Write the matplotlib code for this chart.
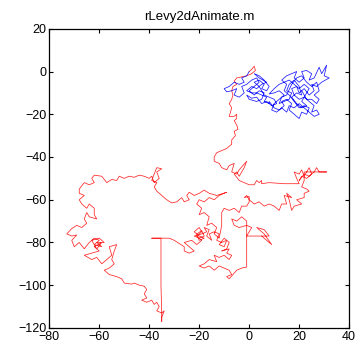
'''
Levy flight trajectories (two walkers) traced from rLevy2dAnimate.m output.
'''

import matplotlib
matplotlib.use('Agg')
import matplotlib.pyplot as plt

#######################################################

# red walker, (x, y) points in order
red_xy = [
    (0, 0), (1, 1), (2, 2.5), (2.5, 0.5), (1, -1), (-1, -2), (-3, -2.5), (-5, -3),
    (-6, -4.5), (-5, -6), (-6.5, -7), (-7, -9), (-6.5, -11), (-7, -13), (-8, -15),
    (-7, -17), (-7.5, -19), (-8, -21), (-6, -21), (-5, -20), (-5, -22), (-6, -23),
    (-5, -25), (-4.5, -27), (-6, -28), (-5.5, -30), (-7, -32), (-7, -34), (-9, -36),
    (-11, -37), (-13, -38), (-14, -40), (-14, -42), (-12, -43), (-11, -45), (-9, -46),
    (-8, -44), (-6, -43), (-7, -47), (-5, -48), (-4, -46), (-1, -42), (-2, -45),
    (-3, -47), (-4, -49), (-5, -47), (-6, -48), (-4, -51), (-2, -52), (0, -53),
    (2, -53), (3, -51), (4, -52), (5, -51), (5, -52.5), (8, -52), (14, -52.5),
    (20, -52.5), (19, -50), (18, -47), (20, -48), (21, -46), (22, -49), (23, -47),
    (24, -45), (25, -48), (23, -50), (21, -49), (20, -51), (22, -48), (24, -49),
    (26, -47), (27, -45), (28, -47), (31, -47),
    (22, -47), (22, -51), (21, -54), (23, -55), (24, -56), (22, -57), (22, -59),
    (19, -60), (21, -62), (18, -63), (17, -65), (16, -60), (15, -57), (17, -59),
    (14, -58), (15, -62), (13, -62), (12, -65), (10, -63), (8, -62), (6, -63),
    (4, -61), (2, -62), (0, -60), (-1, -58), (-2, -59), (0, -58.5), (0, -61),
    (-1, -63), (-3, -63), (-4, -66), (-6, -64), (-8, -65), (-10, -64), (-11, -66),
    (-11, -72), (-12, -78), (-14, -76), (-13, -73), (-15, -71), (-17, -72),
    (-16, -68), (-18, -66), (-20, -67), (-19, -64), (-21, -62), (-20, -60),
    (-18, -61), (-16, -59), (-14, -60), (-12, -58), (-9, -56.5), (-13, -58),
    (-16, -57), (-18, -55.5), (-20, -57), (-22, -58), (-24, -56.5), (-25, -58),
    (-24, -60), (-26, -61), (-27, -59), (-29, -61), (-31, -61.5), (-33, -60),
    (-35, -58), (-37, -56), (-38, -54), (-37, -52), (-39, -51), (-38, -48),
    (-37, -45), (-35, -45.5), (-37, -47), (-36, -50), (-38, -52), (-39, -49),
    (-40, -50), (-42, -49), (-44, -48.5), (-46, -49.5), (-48, -49), (-50, -50),
    (-52, -49), (-53, -51), (-55, -50.5), (-57, -52), (-59, -49), (-62, -48.5),
    (-63, -50), (-62, -52), (-64, -53), (-66, -52), (-68, -55), (-68, -57),
    (-66, -58), (-68, -60), (-67, -62), (-65, -64), (-64, -62), (-62, -64),
    (-62, -67), (-61, -69), (-64, -68), (-65, -66), (-66, -69), (-65, -71),
    (-67, -73), (-69, -72), (-71, -73.5), (-73, -76), (-71, -77), (-69, -76.5),
    (-71, -79), (-70, -82), (-68, -80), (-66, -83), (-64, -80), (-62, -78),
    (-60, -79), (-62, -81), (-59, -82), (-61, -80), (-58, -80), (-60, -78),
    (-63, -79), (-61, -83), (-59, -80), (-62, -82), (-60, -84),
    (-63, -85), (-66, -86), (-63, -88), (-61, -87), (-59, -90), (-57, -88),
    (-55, -86), (-56, -82), (-53, -81), (-54, -84), (-55, -88), (-54, -90),
    (-56, -92), (-58, -93), (-56, -95), (-53, -96), (-51, -97), (-50, -99),
    (-47, -99.5), (-46, -99), (-44, -100), (-42, -100.5), (-41, -102), (-42, -104),
    (-41, -106), (-43, -107), (-41, -108), (-39, -107), (-38, -109), (-37, -108),
    (-36, -110), (-37, -112), (-35, -113), (-34, -112), (-35, -115), (-35, -117),
    (-35, -113), (-35.3, -100), (-35.3, -78), (-39, -78), (-36, -78), (-32, -78),
    (-30, -79), (-28, -80.5), (-26, -82), (-26, -84), (-24, -85), (-22, -84),
    (-24, -82), (-26, -80), (-23, -79), (-21, -81), (-19, -79), (-21, -77),
    (-19, -75), (-20, -73), (-22, -75), (-20, -77), (-18, -78), (-20, -79),
    (-21, -76), (-19, -74.5), (-18, -77), (-20, -78), (-22, -77), (-19, -76),
    (-17, -75), (-18, -73), (-16, -74), (-17, -77), (-15, -79), (-16, -76),
    (-14, -75), (-12, -76), (-13, -79), (-11, -80), (-9, -79), (-10, -82),
    (-12, -81), (-10, -78), (-8, -80), (-9, -83), (-11, -84), (-8, -83),
    (-9, -85), (-7, -86), (-8, -88), (-10, -86), (-12, -87), (-14, -86),
    (-13, -89), (-16, -88), (-18, -90), (-20, -91), (-18, -92), (-16, -91),
    (-14, -93), (-12, -91), (-10, -92), (-8, -93), (-7, -95), (-9, -96),
    (-8, -97), (-5, -93), (-3, -92), (-1, -91.5), (-1, -85), (-1, -70),
    (-3, -68), (-5, -70), (-7, -69), (-6, -72), (-4, -73), (-1, -72), (1, -73),
    (-1, -77), (4, -77), (8, -77), (6, -74), (3, -73), (6, -76), (9, -81),
    (7, -79), (5, -77),
]

# blue walker, (x, y) points in order
blue_xy = [
    (0, 0), (-1, -2), (-3, -3), (-2, -5), (-4, -6), (-6, -5), (-8, -7), (-10, -8),
    (-9, -9.5), (-7, -9), (-5, -8), (-6, -11), (-4, -12), (-2, -10), (-3, -7),
    (-1, -6), (1, -4), (3, -3), (4, -5), (2, -7), (0, -9), (2, -11), (4, -9),
    (6, -10), (5, -13), (3, -14), (0, -13), (-1, -11), (1, -12.5), (3, -12),
    (5, -15), (7, -14), (9, -16), (11, -15), (10, -13), (8, -12), (6, -11),
    (4, -7), (2, -5), (4, -4), (6, -6), (5, -8), (7, -9), (8, -7), (6, -4),
    (4, -2), (2, -1), (4, -3), (7, -5), (5, -6), (3, -8), (1, -7), (-1, -9),
    (1, -10), (3, -10), (5, -11), (7, -12), (6, -14), (8, -15), (8, -14),
    (10, -17), (12, -18), (14, -16),
    (13, -14), (15, -13), (17, -15), (16, -18), (18, -20), (20, -22), (21, -19),
    (23, -20), (24, -17), (22, -16), (20, -17), (18, -14), (16, -11), (14, -9),
    (15, -6), (13, -4), (15, -2), (17, -1), (19, 0), (18, -3), (20, -5), (22, -3),
    (21, 0), (23, 0.5), (25, -1), (24, -4), (26, -3), (28, 2), (29, -1), (31, 3),
    (30, -2), (32, -3), (29, -5), (27, -7), (25, -6), (26, -9), (24, -11),
    (22, -8), (20, -10), (19, -7), (17, -8), (18, -11), (20, -13), (22, -12),
    (24, -14), (26, -16), (25, -19), (27, -18), (28, -20), (26, -21), (24, -19),
    (22, -17), (20, -15), (18, -17), (16, -16), (15, -19), (13, -17), (11, -19),
    (9, -18), (10, -15), (12, -13), (14, -11), (12, -9), (10, -10), (8, -10.5),
    (10, -8), (12, -6), (14, -5), (16, -4), (18, -6), (20, -8), (22, -6),
    (24, -8), (23, -10), (21, -14), (23, -16), (21, -17), (19, -15), (17, -12),
    (19, -10), (21, -11), (20, -7), (18, -4), (16, -6), (15, -9), (17, -10),
    (16, -13), (14, -14), (12, -15), (13, -12), (15, -11), (17, -6), (19, -3),
    (21, -2), (23, -5), (25, -7), (27, -5), (28, -9), (26, -11), (28, -13),
    (27, -15), (25, -13), (23, -13), (21, -9),
]

x_ticks = [-80, -60, -40, -20, 0, 20, 40]
y_ticks = [-120, -100, -80, -60, -40, -20, 0, 20]

#######################################################

plt.rcParams['font.family'] = ['Liberation Sans', 'DejaVu Sans']

fig = plt.figure(figsize=(3.57, 3.47), dpi=100)
ax = fig.add_axes([0.138, 0.055, 0.840, 0.862])

rx, ry = zip(*red_xy)
bx, by = zip(*blue_xy)
ax.plot(rx, ry, c='#ff0000', lw=0.55, alpha=0.85)
ax.plot(bx, by, c='#0000ff', lw=0.55, alpha=0.9)

ax.set_xlim(-80, 40)
ax.set_ylim(-120, 20)
ax.set_xticks(x_ticks)
ax.set_yticks(y_ticks)
ax.tick_params(direction='in', top=True, right=True, length=3, width=0.8,
               labelsize=9, pad=2)
for s in ax.spines.values():
    s.set_linewidth(0.9)
ax.set_title('rLevy2dAnimate.m', fontsize=9.5, pad=6)

fig.savefig('out.png', dpi=100)
